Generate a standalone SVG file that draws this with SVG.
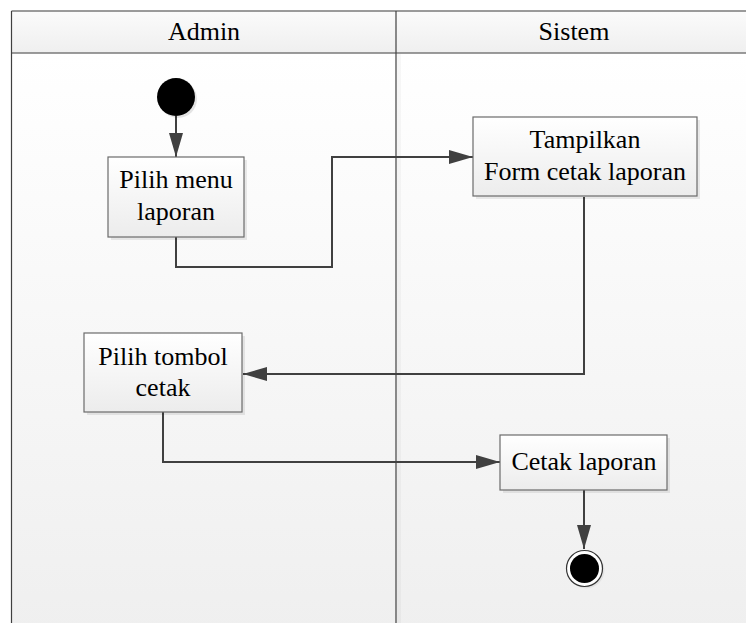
<svg xmlns="http://www.w3.org/2000/svg" width="746" height="623" viewBox="0 0 746 623">
<style>
.t{font-family:"Liberation Serif","DejaVu Serif",serif;font-size:26px;fill:#000;text-anchor:middle}
.box{fill:url(#bg2);stroke:#6b6b6b;stroke-width:1.2}
.sh{fill:#000;opacity:0.08}
.con{fill:none;stroke:#404040;stroke-width:2}
</style>
<defs>
<linearGradient id="bg" x1="0" y1="0" x2="0" y2="1">
<stop offset="0" stop-color="#ffffff"/><stop offset="1" stop-color="#efefef"/>
</linearGradient>
<linearGradient id="hd" x1="0" y1="0" x2="0" y2="1">
<stop offset="0" stop-color="#fbfbfb"/><stop offset="1" stop-color="#efefef"/>
</linearGradient>
<linearGradient id="bg2" x1="0" y1="0" x2="0" y2="1">
<stop offset="0" stop-color="#ffffff"/><stop offset="1" stop-color="#ececec"/>
</linearGradient>
<marker id="ah" markerWidth="24" markerHeight="14" refX="24" refY="7" orient="auto" markerUnits="userSpaceOnUse">
<path d="M0,0 L24,7 L0,14 Z" fill="#404040"/>
</marker>
</defs>
<g id="swimlanes">
<rect x="11.5" y="53" width="740" height="580" fill="url(#bg)"/>
<rect x="11.5" y="11" width="740" height="42" fill="url(#hd)"/>
<line x1="11.5" y1="11" x2="746" y2="11" stroke="#7a7a7a" stroke-width="1.5"/>
<line x1="11.5" y1="53" x2="746" y2="53" stroke="#7a7a7a" stroke-width="1.5"/>
<line x1="11.5" y1="11" x2="11.5" y2="623" stroke="#404040" stroke-width="1.2"/>
<line x1="396" y1="11" x2="396" y2="623" stroke="#404040" stroke-width="1.2"/>
<rect x="397" y="54" width="4" height="569" fill="#000" opacity="0.03"/>
<text class="t" x="204" y="40">Admin</text>
<text class="t" x="574" y="40">Sistem</text>
</g>
<g id="connectors">
<line class="con" x1="176" y1="116" x2="176" y2="157" marker-end="url(#ah)"/>
<polyline class="con" points="176,237 176,267 332,267 332,157 473,157" marker-end="url(#ah)"/>
<polyline class="con" points="584,197 584,374 243,374" marker-end="url(#ah)"/>
<polyline class="con" points="163,412 163,462 500,462" marker-end="url(#ah)"/>
<line class="con" x1="584" y1="490" x2="584" y2="549" marker-end="url(#ah)"/>
</g>
<g id="start">
<circle cx="178" cy="99" r="19" fill="#000" opacity="0.1"/>
<circle cx="176" cy="97" r="19" fill="#000"/>
</g>
<g id="pilih-menu">
<rect class="sh" x="111" y="160" width="136" height="80"/>
<rect class="box" x="108" y="157" width="136" height="80"/>
<text class="t" x="176" y="188">Pilih menu</text>
<text class="t" x="176" y="220">laporan</text>
</g>
<g id="tampilkan">
<rect class="sh" x="476" y="120" width="224" height="79"/>
<rect class="box" x="473" y="117" width="224" height="79"/>
<text class="t" x="585" y="148">Tampilkan</text>
<text class="t" x="585" y="180">Form cetak laporan</text>
</g>
<g id="pilih-tombol">
<rect class="sh" x="87" y="336" width="158" height="79"/>
<rect class="box" x="84" y="333" width="158" height="79"/>
<text class="t" x="163" y="365">Pilih tombol</text>
<text class="t" x="163" y="396">cetak</text>
</g>
<g id="cetak">
<rect class="sh" x="503" y="438" width="167" height="55"/>
<rect class="box" x="500" y="435" width="167" height="55"/>
<text class="t" x="584" y="470">Cetak laporan</text>
</g>
<g id="end">
<circle cx="586" cy="570" r="18.5" fill="#000" opacity="0.06"/>
<circle cx="584.5" cy="568.5" r="18" fill="#fff" stroke="#333" stroke-width="1.2"/>
<circle cx="584.5" cy="568.5" r="14.5" fill="#000"/>
</g>
</svg>
